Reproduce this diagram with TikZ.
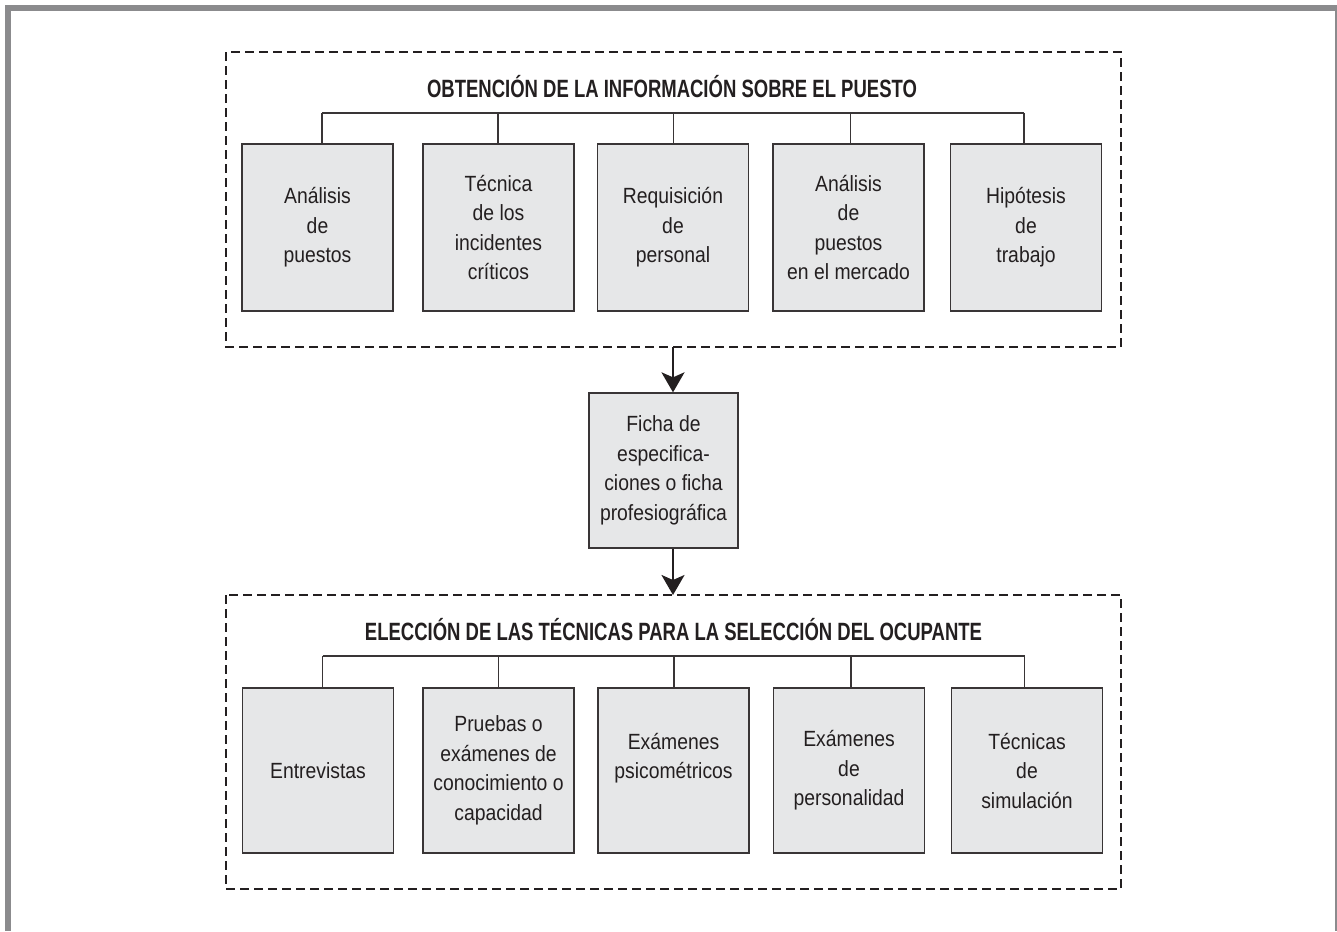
\documentclass[tikz,border=0pt]{standalone}
\usepackage{fontspec}
\setmainfont{Liberation Sans}[FakeStretch=0.88]
\newfontfamily\titlefont{Liberation Sans}[FakeStretch=0.74]
\usetikzlibrary{arrows.meta}
\definecolor{framegray}{HTML}{8B8B8D}
\definecolor{boxfill}{HTML}{E6E7E8}
\definecolor{ink}{HTML}{231F20}
\tikzset{
  stepbox/.style={draw=ink!90, line width=1.3bp, fill=boxfill, rectangle, inner sep=0pt,
    minimum width=151bp, align=center, text=ink,
    font=\fontsize{22bp}{29.5bp}\selectfont},
  toprow/.style={stepbox, minimum height=167bp},
  botrow/.style={stepbox, minimum height=165bp},
  groupbox/.style={draw=ink, line width=1.2bp, dash pattern=on 9bp off 5bp},
  titletext/.style={anchor=base, inner sep=0pt, text=ink,
    font=\titlefont\bfseries\fontsize{25bp}{30bp}\selectfont},
  link/.style={draw=ink!90, line width=1.2bp},
  flow/.style={draw=ink, line width=2.4bp, -{Stealth[length=20bp,width=23bp,inset=5bp]}}
}
\begin{document}
\begin{tikzpicture}[x=1bp,y=-1bp]
\useasboundingbox (0,0) rectangle (1337,931);
% outer frame
\fill[framegray] (5,5) rectangle (1337,11);
\fill[framegray] (5,5) rectangle (11,931);
\fill[framegray] (1335.3,11) rectangle (1337,931);

% group boxes
\draw[groupbox] (226,52) rectangle (1121,347);
\coordinate (g1s) at (673,347);
\draw[groupbox] (226,595) rectangle (1121,889);
\coordinate (g2n) at (673,595);

% top title
\node[titletext] (t1) at (672,97) {OBTENCIÓN DE LA INFORMACIÓN SOBRE EL PUESTO};

% top row
\node[toprow] (a1) at (317.5,227.5) {Análisis\\de\\puestos};
\node[toprow] (a2) at (498.5,227.5) {Técnica\\de los\\incidentes\\críticos};
\node[toprow] (a3) at (673,227.5) {Requisición\\de\\personal};
\node[toprow] (a4) at (848.5,227.5) {Análisis\\de\\puestos\\en el mercado};
\node[toprow] (a5) at (1026,227.5) {Hipótesis\\de\\trabajo};

\coordinate (ta1) at (322,113);
\coordinate (ta2) at (498,113);
\coordinate (ta3) at (673.5,113);
\coordinate (ta4) at (850.5,113);
\coordinate (ta5) at (1024,113);
\draw[link] (ta1) -- (ta5);
\foreach \i in {1,...,5} {\draw[link] (ta\i) -- (ta\i |- a\i.north);}

% middle box
\node[stepbox, minimum width=149bp, minimum height=155bp] (m) at (663.5,470.5)
  {Ficha de\\especifica-\\ciones o ficha\\profesiográfica};

\draw[flow] (g1s) -- (g1s |- m.north);
\draw[flow] (m.south -| g2n) -- (g2n);

% bottom title
\node[titletext] (t2) at (673.5,640) {ELECCIÓN DE LAS TÉCNICAS PARA LA SELECCIÓN DEL OCUPANTE};

% bottom row
\node[botrow] (b1) at (318,770.5) {Entrevistas};
\node[botrow] (b2) at (498.5,770.5) {Pruebas o\\exámenes de\\conocimiento o\\capacidad};
\node[botrow] (b3) at (673.5,770.5) {Exámenes\\psicométricos\\\phantom{x}};
\node[botrow] (b4) at (849,770.5) {Exámenes\\de\\personalidad};
\node[botrow] (b5) at (1027,770.5) {Técnicas\\de\\simulación};

\coordinate (tb1) at (322.5,656);
\coordinate (tb2) at (498.5,656);
\coordinate (tb3) at (674,656);
\coordinate (tb4) at (851,656);
\coordinate (tb5) at (1024.5,656);
\draw[link] (tb1) -- (tb5);
\foreach \i in {1,...,5} {\draw[link] (tb\i) -- (tb\i |- b\i.north);}
\end{tikzpicture}
\end{document}
